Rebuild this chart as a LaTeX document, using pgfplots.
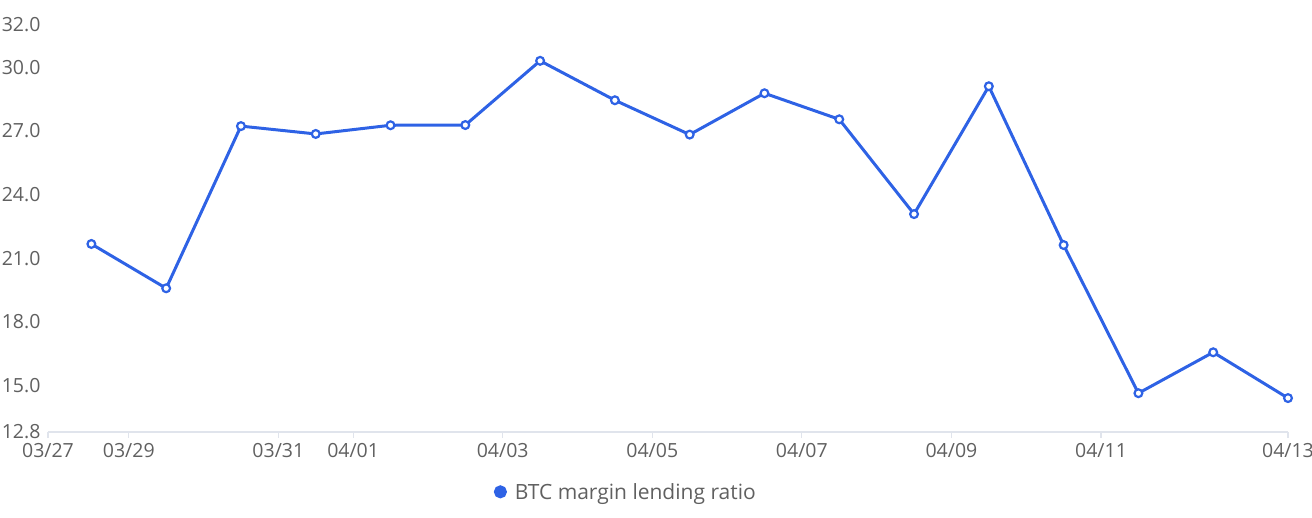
\documentclass[border=0pt]{standalone}
\usepackage{pgfplots}
\pgfplotsset{compat=1.18}
\usepackage{fontspec}
\setmainfont{Open Sans}
\definecolor{lineblue}{RGB}{46,98,229}
\definecolor{labelgray}{RGB}{96,96,96}
\definecolor{axisgray}{RGB}{224,228,236}
\begin{document}
\begin{tikzpicture}[x=1pt,y=1pt]
% page box: 1312 x 517, axis box starts at (48,85) from bottom-left
\useasboundingbox (-48,-85) rectangle (1264,432);
\begin{axis}[
  at={(0,0)}, anchor=south west,
  scale only axis, width=1240pt, height=407pt,
  xmin=-0.08, xmax=16.5, ymin=12.8, ymax=32,
  axis x line*=bottom, axis y line*=left,
  x axis line style={axisgray, line width=1.2pt, -},
  y axis line style={draw=none},
  xtick={-0.08,1,3,4,6,8,10,12,14,16.5},
  xticklabels={03/27,03/29,03/31,04/01,04/03,04/05,04/07,04/09,04/11,04/13},
  ytick={12.8,15,18,21,24,27,30,32},
  yticklabel style={/pgf/number format/fixed, /pgf/number format/fixed zerofill,
    /pgf/number format/precision=1, xshift=2pt},
  xticklabel style={yshift=-1.5pt},
  /pgf/number format/assume math mode=true,
  tick align=outside,
  xtick style={axisgray, line width=1.2pt},
  major tick length=6pt,
  ytick style={draw=none},
  tick label style={font=\fontsize{19.5}{23}\selectfont, text=labelgray},
  legend style={at={(0.466,-0.147)}, anchor=center, draw=none, fill=none,
    font=\fontsize{21}{25}\selectfont, text=labelgray,
    legend cell align=left},
  legend image code/.code={\fill[lineblue] (0.1em,0) circle (5pt);},
  clip=false,
]
\addplot[lineblue, line width=3pt, mark=*, mark size=3.9pt,
  mark options={fill=white, draw=lineblue, line width=2.2pt}]
  coordinates {
  (0.5,21.67) (1.5,19.58) (2.5,27.23) (3.5,26.86) (4.5,27.27) (5.5,27.28)
  (6.5,30.31) (7.5,28.45) (8.5,26.83) (9.5,28.78) (10.5,27.55) (11.5,23.08)
  (12.5,29.11) (13.5,21.62) (14.5,14.63) (15.5,16.56) (16.5,14.40)
  };
\addlegendentry{\hspace{6pt}BTC margin lending ratio}
\end{axis}
\end{tikzpicture}
\end{document}
